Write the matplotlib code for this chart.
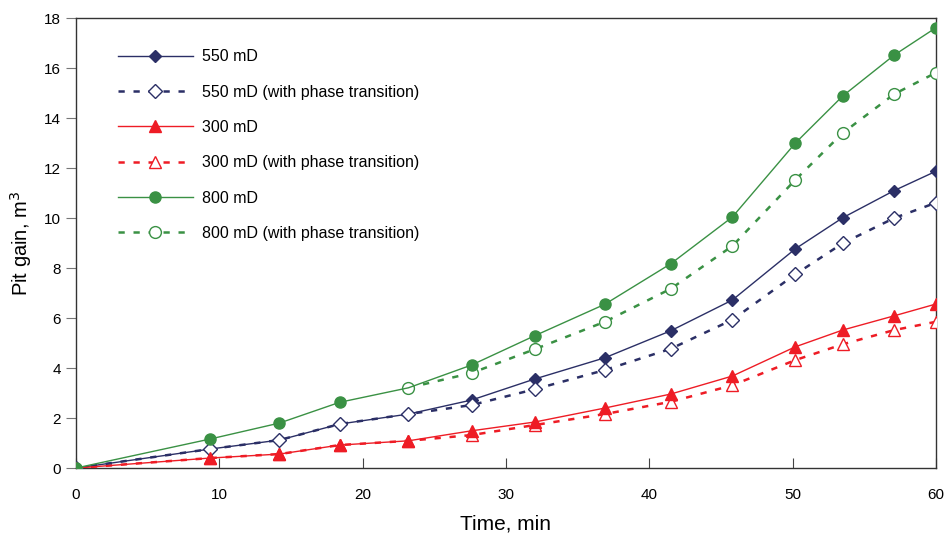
import matplotlib
matplotlib.use("Agg")
import matplotlib.pyplot as plt

plt.rcParams['font.family'] = ['Liberation Sans', 'DejaVu Sans']

time = [0, 9.35, 14.2, 18.4, 23.2, 27.6, 32.0, 36.9, 41.5, 45.8, 50.2, 53.5, 57.1, 60.0]

k550 = [0, 0.76, 1.12, 1.76, 2.16, 2.72, 3.56, 4.41, 5.49, 6.72, 8.77, 10.01, 11.10, 11.87]
k550_pt = [0, 0.76, 1.12, 1.76, 2.16, 2.52, 3.15, 3.92, 4.77, 5.93, 7.75, 8.99, 10.00, 10.61]
k300 = [0, 0.40, 0.56, 0.92, 1.09, 1.49, 1.84, 2.40, 2.96, 3.68, 4.85, 5.52, 6.09, 6.56]
k300_pt = [0, 0.40, 0.56, 0.92, 1.09, 1.32, 1.72, 2.16, 2.65, 3.31, 4.32, 4.95, 5.52, 5.85]
k800 = [0, 1.16, 1.80, 2.63, 3.21, 4.12, 5.29, 6.55, 8.17, 10.04, 13.00, 14.88, 16.52, 17.61]
k800_pt = [0, 1.16, 1.80, 2.63, 3.21, 3.80, 4.75, 5.85, 7.17, 8.88, 11.53, 13.40, 14.96, 15.81]

labels = ['550 mD', '550 mD (with phase transition)', '300 mD',
          '300 mD (with phase transition)', '800 mD', '800 mD (with phase transition)']

navy = '#2b2f66'
red = '#ee1c25'
green = '#3a9144'

fig = plt.figure(figsize=(9.53, 5.38), dpi=100)
ax = fig.add_axes([0.0797, 0.130, 0.9023, 0.8365])

n = len(time)
dash = (0, (2.5, 3.5))
ax.plot(time, k550, color=navy, lw=1.0, marker='D', ms=6.5, mfc=navy, mec=navy,
        label=labels[0], zorder=3)
ax.plot(time, k550_pt, color=navy, lw=1.8, ls=dash, marker='D', ms=7, mfc='white',
        mec=navy, mew=1.0, label=labels[1], zorder=4)
ax.plot(time, k300_pt, color=red, lw=1.8, ls=dash, marker='^', ms=9, mfc='white',
        mec=red, mew=1.0, label=labels[3], zorder=3)
ax.plot(time, k300, color=red, lw=1.0, marker='^', ms=9, mfc=red, mec=red,
        label=labels[2], zorder=4)
ax.plot(time[4:], k800_pt[4:], color=green, lw=1.8, ls=dash, marker='o', ms=8.5,
        mfc='white', mec=green, mew=1.0, label=labels[5], zorder=3)
ax.plot(time, k800, color=green, lw=1.0, marker='o', ms=8, mfc=green, mec=green,
        markevery=[i for i in range(n) if i != 4], label=labels[4], zorder=4)

ax.set_xlim(0, 60)
ax.set_ylim(0, 18)
ax.set_xticks(range(0, 61, 10))
ax.set_yticks(range(0, 19, 2))
ax.tick_params(axis='x', direction='in', length=7, labelsize=11, pad=14, color='#444444')
ax.tick_params(axis='y', direction='out', length=7, labelsize=11, pad=4, color='#777777')
for s in ax.spines.values():
    s.set_color('#333333')
    s.set_linewidth(1.0)

ax.set_xlabel('Time, min', fontsize=15, labelpad=9)
ax.set_ylabel('Pit gain, m$^3$', fontsize=14.5, labelpad=7)

handles, labs = ax.get_legend_handles_labels()
order = [labs.index(l) for l in labels]
ax.legend([handles[i] for i in order], [labs[i] for i in order],
          loc='upper left', bbox_to_anchor=(0.032, 0.962), frameon=False,
          fontsize=11.5, handlelength=4.7, labelspacing=1.27, handletextpad=0.6)

fig.savefig('out.png', dpi=100)
